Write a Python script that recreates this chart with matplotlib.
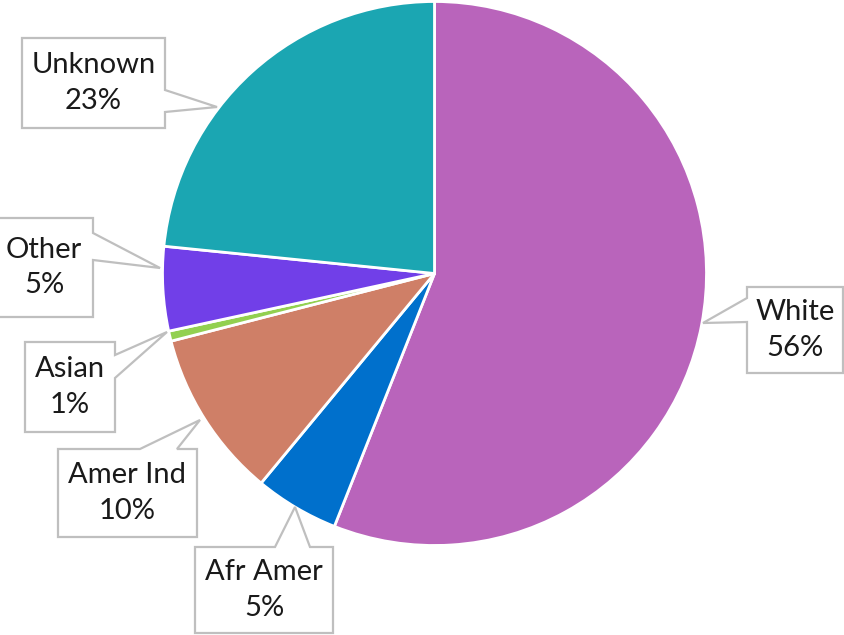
import matplotlib.pyplot as plt
from matplotlib.patches import Polygon

# pie data (share of total, %)
groups = ['White', 'Afr Amer', 'Amer Ind', 'Asian', 'Other', 'Unknown']
shares = [56, 5, 10, 0.6, 5, 23.4]
colors = ['#B964BB', '#0070CC', '#CF7F67', '#92D050', '#713FE8', '#1BA6B2']

W, H = 844, 635

# callout boxes in pixel coords: (x0, y0, x1, y1), side of pointer, pointer base span, tip
callouts = {
    'White':    ((747, 287, 843, 373), 'left',  (298, 322), (703, 323)),
    'Afr Amer': ((195, 547, 333, 633), 'top',   (275, 310), (295, 507)),
    'Amer Ind': ((58, 449, 197, 537),  'top',   (140, 177), (200, 420)),
    'Asian':    ((25, 342, 115, 432),  'right', (355, 378), (167, 332)),
    'Other':    ((-5, 218, 93, 317),   'right', (233, 260), (160, 268)),
    'Unknown':  ((22, 38, 165, 128),   'right', (90, 112), (217, 107)),
}


def P(x, y):
    return (x, H - y)


def callout_shape(box, side, span, tip):
    x0, y0, x1, y1 = box
    a, b = span
    if side == 'right':
        pts = [(x0, y0), (x1, y0), (x1, a), tip, (x1, b), (x1, y1), (x0, y1)]
    elif side == 'left':
        pts = [(x0, y0), (x1, y0), (x1, y1), (x0, y1), (x0, b), tip, (x0, a)]
    else:
        pts = [(x0, y0), (a, y0), tip, (b, y0), (x1, y0), (x1, y1), (x0, y1)]
    return [P(*p) for p in pts]


fig = plt.figure(figsize=(W / 100, H / 100), dpi=100)
ax = fig.add_axes([0, 0, 1, 1])

ax.pie(shares, colors=colors, startangle=90, counterclock=False,
       center=P(434.5, 273.5), radius=272,
       wedgeprops=dict(edgecolor='white', linewidth=2))

for name, share in zip(groups, shares):
    box, side, span, tip = callouts[name]
    shape = Polygon(callout_shape(box, side, span, tip), closed=True,
                    facecolor='white', edgecolor='#BFBFBF', linewidth=1.6,
                    joinstyle='miter', zorder=5)
    ax.add_patch(shape)
    cx = (box[0] + box[2]) / 2
    cy = (box[1] + box[3]) / 2
    ax.text(*P(cx, cy), f"{name}\n{share:.0f}%", ha='center', va='center',
            fontsize=21, family='Lato', color='#1a1a1a',
            linespacing=1.45, zorder=6)

ax.set_xlim(0, W)
ax.set_ylim(0, H)
ax.set_aspect('equal')
ax.axis('off')

fig.savefig('out.png', dpi=100)
